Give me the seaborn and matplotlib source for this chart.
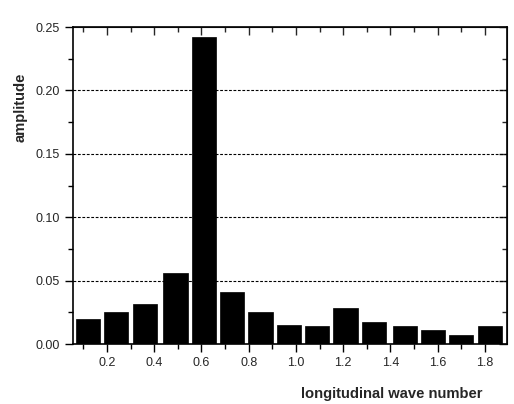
import numpy as np
import pandas as pd
import matplotlib
matplotlib.use('Agg')
import matplotlib.pyplot as plt
import seaborn as sns
from matplotlib.ticker import MultipleLocator

# wave numbers and amplitudes
wave_number = [0.12, 0.24, 0.36, 0.49, 0.61, 0.73, 0.85, 0.97,
               1.09, 1.21, 1.33, 1.46, 1.58, 1.70, 1.82]
amplitude = [0.0197, 0.0252, 0.0318, 0.0560, 0.2420, 0.0408, 0.0255, 0.0147,
             0.0142, 0.0284, 0.0173, 0.0139, 0.0110, 0.0071, 0.0142]

df = pd.DataFrame({'k': wave_number, 'amp': amplitude})

sns.set_style('ticks')
plt.rcParams['font.family'] = ['Liberation Sans', 'DejaVu Sans']

fig = plt.figure(figsize=(5.14, 4.04), dpi=100)
ax = fig.add_axes([0.142, 0.1485, 0.844, 0.7845])

sns.barplot(data=df, x='k', y='amp', native_scale=True, width=0.85,
            color='black', edgecolor='black', linewidth=0.5,
            saturation=1, errorbar=None, ax=ax, zorder=3)

ax.set_xlim(0.056, 1.893)
ax.set_ylim(0, 0.25)
ax.xaxis.set_major_locator(MultipleLocator(0.2))
ax.xaxis.set_minor_locator(MultipleLocator(0.1))
ax.yaxis.set_major_locator(MultipleLocator(0.05))
ax.yaxis.set_minor_locator(MultipleLocator(0.025))
ax.xaxis.set_major_formatter(plt.FormatStrFormatter('%.1f'))
ax.yaxis.set_major_formatter(plt.FormatStrFormatter('%.2f'))

for s in ax.spines.values():
    s.set_linewidth(1.2)
    s.set_color('black')

ax.tick_params(which='both', direction='out', top=False, right=False,
               width=1.0, labelsize=9, color='black')
ax.tick_params(which='major', length=6)
ax.tick_params(which='minor', length=3.5)

# mirrored inward ticks on top and right
sec_x = ax.secondary_xaxis('top')
sec_x.xaxis.set_major_locator(MultipleLocator(0.2))
sec_x.xaxis.set_minor_locator(MultipleLocator(0.1))
sec_x.tick_params(which='both', direction='in', labeltop=False, width=1.0)
sec_x.tick_params(which='major', length=6)
sec_x.tick_params(which='minor', length=3.5)
sec_y = ax.secondary_yaxis('right')
sec_y.yaxis.set_major_locator(MultipleLocator(0.05))
sec_y.yaxis.set_minor_locator(MultipleLocator(0.025))
sec_y.tick_params(which='both', direction='in', labelright=False, width=1.0)
sec_y.tick_params(which='major', length=6)
sec_y.tick_params(which='minor', length=3.5)

for yv in [0.05, 0.10, 0.15, 0.20]:
    ax.axhline(yv, color='black', linestyle=(0, (2.5, 1.5)), linewidth=0.8, zorder=1)

ax.set_xlabel('longitudinal wave number', fontsize=10.6, fontweight='bold')
ax.set_ylabel('amplitude', fontsize=10.6, fontweight='bold')
ax.xaxis.set_label_coords(0.735, -0.135)
ax.yaxis.set_label_coords(-0.104, 0.748)

fig.savefig('out.png', dpi=100)
